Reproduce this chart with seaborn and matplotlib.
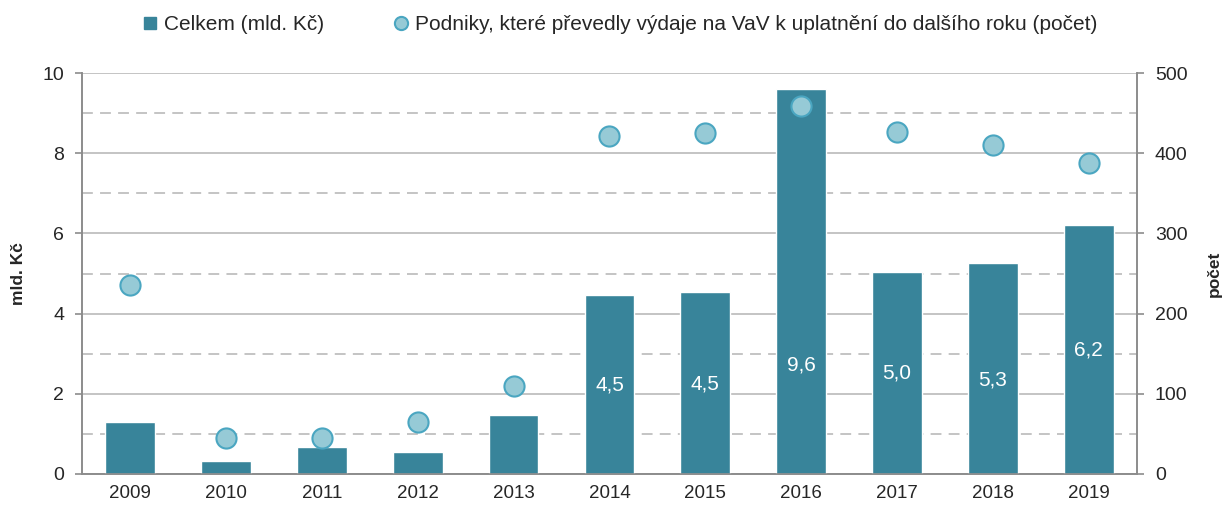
import numpy as np
import pandas as pd
import matplotlib
matplotlib.use('Agg')
import matplotlib.pyplot as plt
from matplotlib.lines import Line2D
from matplotlib.ticker import MultipleLocator, FixedLocator
import seaborn as sns

# values
years = ['2009', '2010', '2011', '2012', '2013', '2014',
         '2015', '2016', '2017', '2018', '2019']
celkem = [1.30, 0.33, 0.67, 0.55, 1.47, 4.47, 4.54, 9.60, 5.03, 5.27, 6.21]
podniky = [236, 45, 45, 65, 110, 422, 425, 459, 426, 410, 388]
bar_labels = ['', '', '', '', '', '4,5', '4,5', '9,6', '5,0', '5,3', '6,2']
label_y = [0, 0, 0, 0, 0, 2.23, 2.25, 2.72, 2.52, 2.34, 3.1]

BAR_C = '#38849A'
DOT_FACE = '#96CAD6'
DOT_EDGE = '#4AA6C1'
GRID_C = '#BFBFBF'
AXIS_C = '#8C8C8C'

sns.set_style('white')
plt.rcParams['font.family'] = ['Liberation Sans', 'DejaVu Sans']

df = pd.DataFrame({'rok': years, 'celkem': celkem, 'podniky': podniky,
                   'pos': np.arange(len(years))})

fig = plt.figure(figsize=(12.25, 5.08), dpi=100)
ax = fig.add_axes([0.067, 0.067, 0.861, 0.789])

sns.barplot(data=df, x='rok', y='celkem', color=BAR_C, saturation=1,
            width=0.52, ax=ax, zorder=3)

ax.set_ylim(0, 10)
ax.set_xlim(-0.5, len(years) - 0.5)
ax.yaxis.set_major_locator(MultipleLocator(2))
ax.yaxis.set_minor_locator(MultipleLocator(1))
ax.grid(which='major', axis='y', color=GRID_C, lw=1.3, zorder=0)
ax.grid(which='minor', axis='y', color=GRID_C, lw=1.3, ls=(0, (6, 4)), zorder=0)
ax.set_axisbelow(True)

for i, (lab, yy) in enumerate(zip(bar_labels, label_y)):
    if lab:
        ax.text(i, yy, lab, ha='center', va='center', color='white',
                fontsize=15, zorder=5)

# x ticks: labels centred, marks at category boundaries
ax.xaxis.set_major_locator(FixedLocator(np.arange(len(years))))
ax.xaxis.set_minor_locator(FixedLocator(np.arange(len(years) + 1) - 0.5))
ax.tick_params(axis='x', which='major', length=0, pad=8, labelsize=13.5)
ax.tick_params(axis='x', which='minor', length=5, width=1.2, color=AXIS_C)
ax.tick_params(axis='y', which='major', length=5, width=1.2, color=AXIS_C,
               labelsize=14, pad=8, left=True)
ax.tick_params(axis='y', which='minor', length=0)
ax.set_xlabel('')
ax.set_ylabel('mld. Kč', fontsize=12.5, fontweight='bold', labelpad=12)

ax2 = ax.twinx()
sns.scatterplot(data=df, x='pos', y='podniky', s=210, color=DOT_FACE,
                edgecolor=DOT_EDGE, linewidth=1.5, ax=ax2, zorder=6)
ax2.set_ylim(0, 500)
ax2.yaxis.set_major_locator(MultipleLocator(100))
ax2.tick_params(axis='y', length=5, width=1.2, color=AXIS_C, labelsize=14,
                pad=8, right=True)
ax2.set_ylabel('počet', fontsize=12.5, fontweight='bold', labelpad=14)
ax2.set_xlabel('')

for a in (ax, ax2):
    a.spines['top'].set_visible(False)
    for s in ('left', 'right', 'bottom'):
        a.spines[s].set_color(AXIS_C)
        a.spines[s].set_linewidth(1.2)

handles = [
    Line2D([], [], marker='s', ls='', markersize=9, color=BAR_C),
    Line2D([], [], marker='o', ls='', markersize=9.5, markerfacecolor=DOT_FACE,
           markeredgecolor=DOT_EDGE, markeredgewidth=1.5),
]
labels = ['Celkem (mld. Kč)',
          'Podniky, které převedly výdaje na VaV k uplatnění do dalšího roku (počet)']
fig.legend(handles, labels, loc='center', bbox_to_anchor=(0.505, 0.952), ncol=2,
           frameon=False, fontsize=15, handletextpad=0.15, columnspacing=3.2,
           handlelength=1.0)

fig.savefig('out.png', dpi=100)
